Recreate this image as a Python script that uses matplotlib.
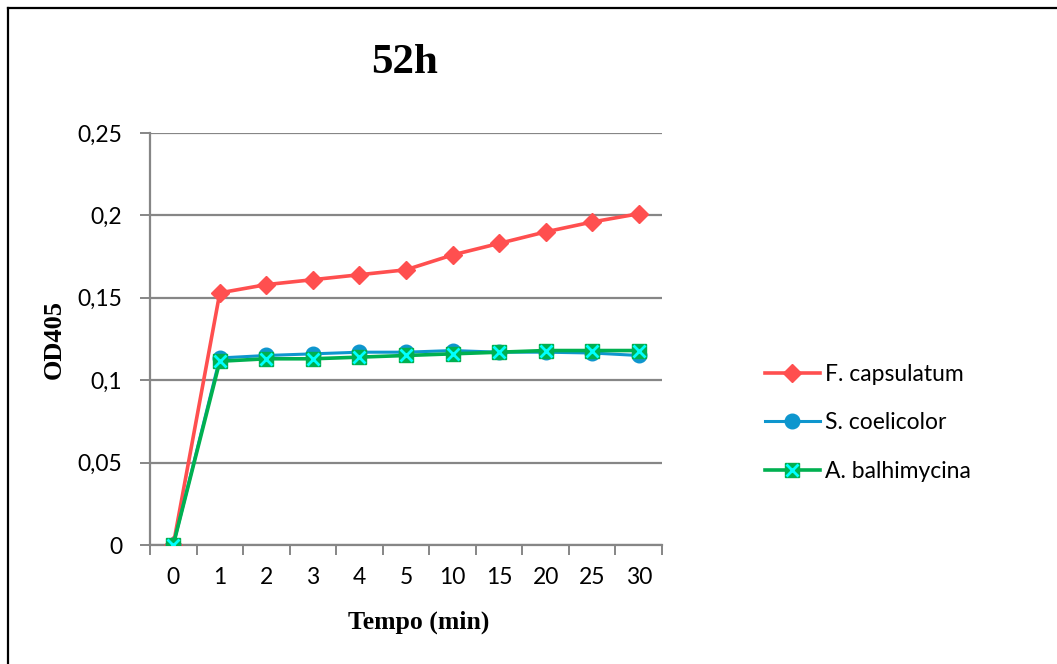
import matplotlib
matplotlib.use("Agg")
import matplotlib.pyplot as plt
from matplotlib.lines import Line2D
from matplotlib.legend_handler import HandlerTuple
import numpy as np

# Data
tempo = ["0", "1", "2", "3", "4", "5", "10", "15", "20", "25", "30"]
f_capsulatum = [0.0, 0.153, 0.158, 0.161, 0.164, 0.167, 0.176, 0.183, 0.190, 0.196, 0.201]
s_coelicolor = [0.0, 0.1135, 0.115, 0.116, 0.117, 0.117, 0.118, 0.117, 0.117, 0.1165, 0.115]
a_balhimycina = [0.0, 0.1115, 0.113, 0.113, 0.114, 0.115, 0.116, 0.117, 0.118, 0.118, 0.118]
y_ticks = [0, 0.05, 0.1, 0.15, 0.2, 0.25]
y_ticklabels = ["0", "0,05", "0,1", "0,15", "0,2", "0,25"]

RED = "#FF4F4F"
BLUE = "#0E96CE"
GREEN = "#00B050"
CYAN = "#00FFFF"
GRID = "#868686"

fig = plt.figure(figsize=(10.57, 6.64), dpi=100)
ax = fig.add_axes([0.1419, 0.1792, 0.4844, 0.6205])

x = np.arange(len(tempo))
ax.plot(x, f_capsulatum, color=RED, lw=2.6, marker="D", ms=9.5,
        mec=RED, mfc=RED, label="F. capsulatum", zorder=3)
ax.plot(x, s_coelicolor, color=BLUE, lw=2.2, marker="o", ms=10.5,
        mec=BLUE, mfc=BLUE, label="S. coelicolor", zorder=4)
l_green, = ax.plot(x, a_balhimycina, color=GREEN, lw=2.6, marker="s", ms=9.5,
                   mec=GREEN, mfc=GREEN, zorder=5)
l_cross, = ax.plot(x, a_balhimycina, ls="none", marker="x", ms=9, mew=2,
                   color=CYAN, zorder=6)

ax.set_xlim(-0.5, len(tempo) - 0.5)
ax.set_ylim(0, 0.25)
ax.set_yticks(y_ticks)
ax.set_yticklabels(y_ticklabels)
ax.set_xticks(x)
ax.set_xticklabels(tempo)
ax.set_xticks(np.arange(len(tempo) + 1) - 0.5, minor=True)

ax.grid(axis="y", color=GRID, lw=1.6)
ax.set_axisbelow(True)
for s in ["top", "right"]:
    ax.spines[s].set_visible(False)
for s in ["left", "bottom"]:
    ax.spines[s].set_color(GRID)
    ax.spines[s].set_linewidth(1.6)

ax.tick_params(axis="x", which="major", length=0, pad=16, labelsize=16.5)
ax.tick_params(axis="x", which="minor", length=7, width=1.4, color=GRID, direction="out")
ax.tick_params(axis="y", length=7, width=1.4, color=GRID, pad=13, labelsize=16.5)
for lab in ax.get_xticklabels() + ax.get_yticklabels():
    lab.set_fontfamily("Lato")

fig.text(0.383, 0.905, "52h", family="Liberation Serif", weight="bold",
         fontsize=31, ha="center", va="center")
fig.text(0.396, 0.063, "Tempo (min)", family="Liberation Serif", weight="bold",
         fontsize=18.5, ha="center", va="center")
fig.text(0.051, 0.489, "OD405", family="Liberation Serif", weight="bold",
         fontsize=19, ha="center", va="center", rotation=90)

handles = [ax.lines[0], ax.lines[1], (l_green, l_cross)]
labels = ["F. capsulatum", "S. coelicolor", "A. balhimycina"]
ax.legend(handles, labels, handler_map={tuple: HandlerTuple(ndivide=1)},
          loc="center left", bbox_to_anchor=(0.7237, 0.363),
          bbox_transform=fig.transFigure, frameon=False, borderpad=0,
          borderaxespad=0, handlelength=2.4, handletextpad=0.2,
          labelspacing=1.2, prop={"family": "Lato", "size": 16.5})

# outer frame (top and left edges)
fig.add_artist(Line2D([8 / 1057, 1], [1 - 8 / 664, 1 - 8 / 664],
                      transform=fig.transFigure, color="black", lw=1.6))
fig.add_artist(Line2D([8 / 1057, 8 / 1057], [0, 1 - 8 / 664],
                      transform=fig.transFigure, color="black", lw=1.6))

fig.savefig("out.png", dpi=100)
